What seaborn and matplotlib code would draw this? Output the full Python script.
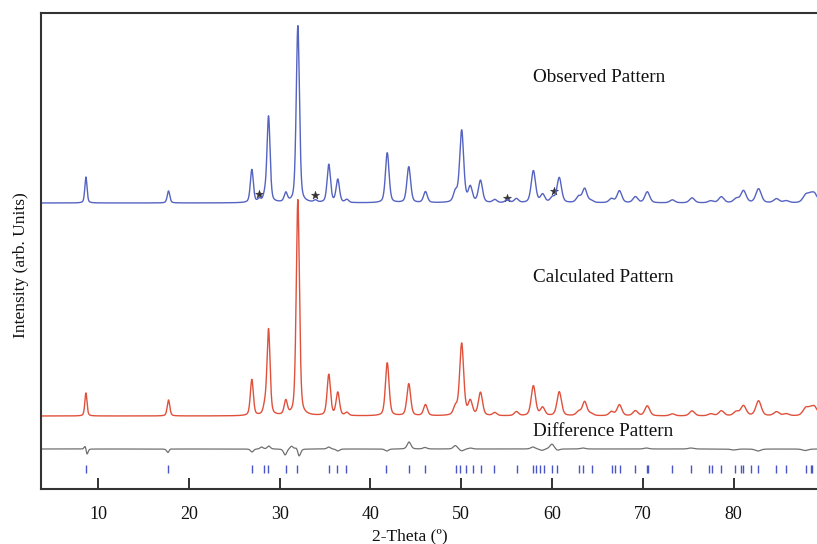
import numpy as np
import pandas as pd
import matplotlib
matplotlib.use("Agg")
import matplotlib.pyplot as plt
import seaborn as sns

# ---------------- data ----------------
peak_pos = [8.65, 17.75, 26.93, 28.36, 28.77, 30.67, 32.0, 35.41, 36.4, 37.4,
            41.85, 44.22, 46.06, 49.36, 50.05, 51.0, 52.12, 53.7, 56.08, 57.95,
            58.97, 60.8, 62.93, 63.6, 64.3, 66.55, 67.43, 69.19, 70.5, 73.26,
            75.43, 77.5, 78.66, 80.3, 81.1, 82.76, 84.74, 85.8, 87.94, 88.46, 88.93]
obs_height = [26, 12, 33, 6, 86, 9, 177, 38, 23, 3,
              50, 36, 11, 10, 72, 15, 22, 3, 4, 32,
              8, 25, 6, 14, 2, 4, 12, 6, 11, 3,
              5, 2, 6, 4, 12, 14, 4, 2, 7, 6, 8]
calc_height = [23, 16, 36, 8, 86, 14, 216, 41, 23, 3,
               53, 32, 11, 8, 72, 14, 23, 3, 4, 30,
               8, 24, 4, 14, 2, 4, 11, 5, 10, 2,
               5, 2, 5, 4, 10, 15, 4, 2, 7, 5, 8]
impurity_pos = [27.75, 33.94, 55.09, 60.05]
impurity_height = [3, 2, 3, 5]

diff_pos = [8.6, 8.75, 17.7, 17.85, 26.95, 28.0, 28.8, 30.6, 31.3, 31.95, 32.1,
            35.4, 36.4, 41.8, 44.25, 46.0, 49.35, 50.05, 51.0, 57.9, 58.9,
            60.0, 60.6, 63.4, 70.4, 75.3, 80.0, 82.7, 87.9]
diff_amp = [5, -7, -4, 1, -3, 2, 3, -6, 3, 5, -10,
            2, -2, -2, 7, 1.5, 3.5, -2, 1, 2, -1.5,
            5, -1.5, 1, 1, 1, -1, -2, -1.5]

bragg_pos = [8.61, 17.71, 26.96, 28.25, 28.73, 30.64, 31.96, 35.41, 36.36, 37.35,
             41.76, 44.22, 46.05, 49.38, 49.85, 50.51, 51.32, 52.13, 53.63, 56.1,
             57.93, 58.2, 58.67, 59.15, 59.96, 60.51, 63.0, 63.37, 64.36, 66.56,
             66.93, 67.48, 69.2, 70.46, 70.57, 73.21, 75.35, 77.29, 77.66, 78.65,
             80.12, 80.85, 81.03, 81.96, 82.69, 84.71, 85.74, 87.94, 88.57, 88.68]

asterisk_pos = [27.7, 33.94, 55.09, 60.18]
asterisk_height = [9, 8, 5, 12]

x_ticks = [10, 20, 30, 40, 50, 60, 70, 80]
labels = ["Observed Pattern", "Calculated Pattern", "Difference Pattern"]

# ---------------- layout / style ----------------
obs_base, calc_base, diff_base = 341, 128, 95
tick_lo, tick_hi = 71, 79
xmin, xmax = 3.7, 89.2

two_theta = np.linspace(xmin, xmax, 9000)


def profile(pos, amp, x):
    y = np.zeros_like(x)
    for p, a in zip(pos, amp):
        w = 0.12 + 0.0028 * p  # half width at half max
        g = np.exp(-np.log(2) * ((x - p) / w) ** 2)
        lor = 1.0 / (1.0 + ((x - p) / w) ** 2)
        y += a * (0.6 * g + 0.4 * lor)
    return y


obs = obs_base + profile(peak_pos + impurity_pos, obs_height + impurity_height, two_theta)
calc = calc_base + profile(peak_pos, calc_height, two_theta)
diff = diff_base + profile(diff_pos, diff_amp, two_theta)

df = pd.DataFrame({"two_theta": two_theta, "obs": obs, "calc": calc, "diff": diff})

sns.set_theme(style="ticks")
plt.rcParams["font.family"] = ["Liberation Serif", "DejaVu Serif"]

fig = plt.figure(figsize=(8.17, 5.44), dpi=100)
ax = fig.add_axes([41 / 817, 55 / 544, 1 - 41 / 817, (531 - 55) / 544])

sns.lineplot(data=df, x="two_theta", y="obs", ax=ax, color="#5563c1",
             linewidth=1.0, estimator=None, sort=False)
sns.lineplot(data=df, x="two_theta", y="calc", ax=ax, color="#e0513c",
             linewidth=1.0, estimator=None, sort=False)
sns.lineplot(data=df, x="two_theta", y="diff", ax=ax, color="#707070",
             linewidth=0.9, estimator=None, sort=False)
ax.vlines(bragg_pos, tick_lo, tick_hi, color="#4a55c8", linewidth=1.0)
ast_y = [obs_base + h for h in asterisk_height]
sns.scatterplot(x=asterisk_pos, y=ast_y, ax=ax, marker="*", s=36,
                color="#333333", edgecolor="#333333", linewidth=0.4)

text_x = 57.87
ax.text(text_x, 544 - 77, labels[0], fontsize=13.8, ha="left", va="center", color="#111111")
ax.text(text_x, 544 - 278, labels[1], fontsize=13.8, ha="left", va="center", color="#111111")
ax.text(text_x, 544 - 431, labels[2], fontsize=13.8, ha="left", va="center", color="#111111")

ax.set_xlim(xmin, xmax)
ax.set_ylim(55, 531)
ax.set_xticks(x_ticks)
ax.set_xticklabels([str(t) for t in x_ticks])
ax.set_yticks([])
ax.tick_params(axis="x", direction="in", length=8, width=1.3, color="#222222",
               labelsize=13, pad=12, labelcolor="#111111")
for side in ["left", "bottom", "top"]:
    ax.spines[side].set_linewidth(1.5)
    ax.spines[side].set_color("#333333")
ax.spines["right"].set_visible(False)

ax.set_xlabel("2-Theta (º)", fontsize=12.5, color="#111111")
ax.set_ylabel("Intensity (arb. Units)", fontsize=12.5, color="#111111")
ax.xaxis.set_label_coords(0.475, -0.082)
ax.yaxis.set_label_coords(-0.015, 0.47)

fig.savefig("out.png", dpi=100)
